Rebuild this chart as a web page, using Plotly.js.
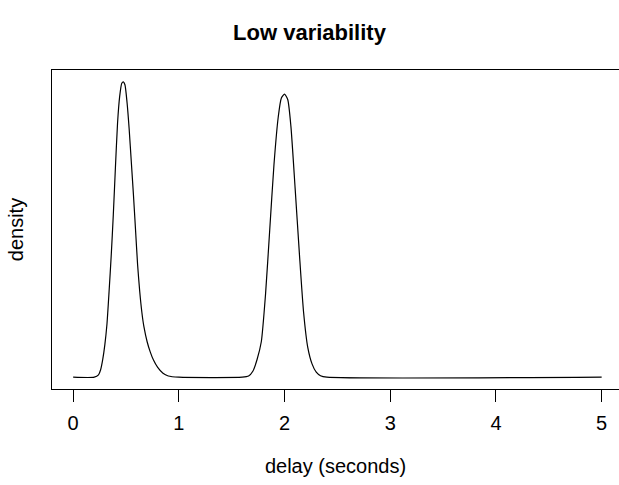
<!DOCTYPE html>
<html>
<head>
<meta charset="utf-8">
<script src="https://cdn.plot.ly/plotly-3.0.1.min.js"></script>
<style>html,body{margin:0;padding:0;background:#fff;}#chart{width:619px;height:485px;}</style>
</head>
<body>
<div id="chart"></div>
<script>
// delay (seconds) sample points
const delay = [0, 0.20, 0.24, 0.26, 0.28, 0.30, 0.32, 0.34, 0.36, 0.38, 0.40, 0.42, 0.44, 0.46, 0.475, 0.49, 0.51, 0.53, 0.55, 0.57, 0.59, 0.61, 0.63, 0.65, 0.67, 0.70, 0.73, 0.76, 0.80, 0.85, 0.90, 1.00,
  1.60, 1.66, 1.70, 1.74, 1.78, 1.82, 1.86, 1.90, 1.94, 1.97, 2.00, 2.03, 2.06, 2.10, 2.14, 2.18, 2.22, 2.26, 2.30, 2.34, 2.40, 5.00];
// density (relative units, y axis is unlabelled)
const density = [0, 0, 0.008, 0.025, 0.06, 0.11, 0.18, 0.29, 0.41, 0.55, 0.71, 0.86, 0.95, 0.995, 1.0, 0.99, 0.93, 0.84, 0.73, 0.62, 0.50, 0.38, 0.29, 0.22, 0.17, 0.12, 0.085, 0.058, 0.033, 0.013, 0.004, 0,
  0, 0.004, 0.02, 0.06, 0.12, 0.28, 0.50, 0.72, 0.88, 0.945, 0.958, 0.94, 0.85, 0.64, 0.42, 0.22, 0.10, 0.045, 0.017, 0.005, 0, 0];
const tickValues = [0, 1, 2, 3, 4, 5];
const tickLabels = ["0", "1", "2", "3", "4", "5"];

const font = "Liberation Sans, Arial, Helvetica, sans-serif";
const trace = {
  x: delay, y: density, type: "scatter", mode: "lines",
  line: {color: "#000", width: 1.2, shape: "spline", smoothing: 0.6},
  hoverinfo: "skip", showlegend: false
};
const layout = {
  width: 619, height: 485,
  margin: {l: 52, r: 0, t: 70, b: 96},
  paper_bgcolor: "#fff", plot_bgcolor: "#fff",
  font: {family: font, color: "#000", size: 20},
  title: {text: "<b>Low variability</b>", font: {family: font, size: 22, color: "#000"},
          x: 0.5, xref: "container", xanchor: "center", y: 1 - 32/485, yref: "container", yanchor: "middle"},
  xaxis: {
    range: [-0.2, 5.164], tickmode: "array", tickvals: tickValues, ticktext: tickLabels,
    ticks: "outside", ticklen: 12, tickwidth: 1, tickcolor: "#000", ticklabelstandoff: 4,
    showline: true, linecolor: "#000", linewidth: 1, mirror: true,
    showgrid: false, zeroline: false, tickfont: {size: 20},
    title: {text: "delay (seconds)", font: {size: 20}, standoff: 25}, automargin: false
  },
  yaxis: {
    range: [-0.04, 1.04], showticklabels: false, ticks: "",
    showline: true, linecolor: "#000", linewidth: 1, mirror: false,
    showgrid: false, zeroline: false,
    title: {text: "density", font: {size: 20}, standoff: 22}, automargin: false
  }
};
Plotly.newPlot("chart", [trace], layout, {staticPlot: true, displayModeBar: false});
</script>
</body>
</html>
